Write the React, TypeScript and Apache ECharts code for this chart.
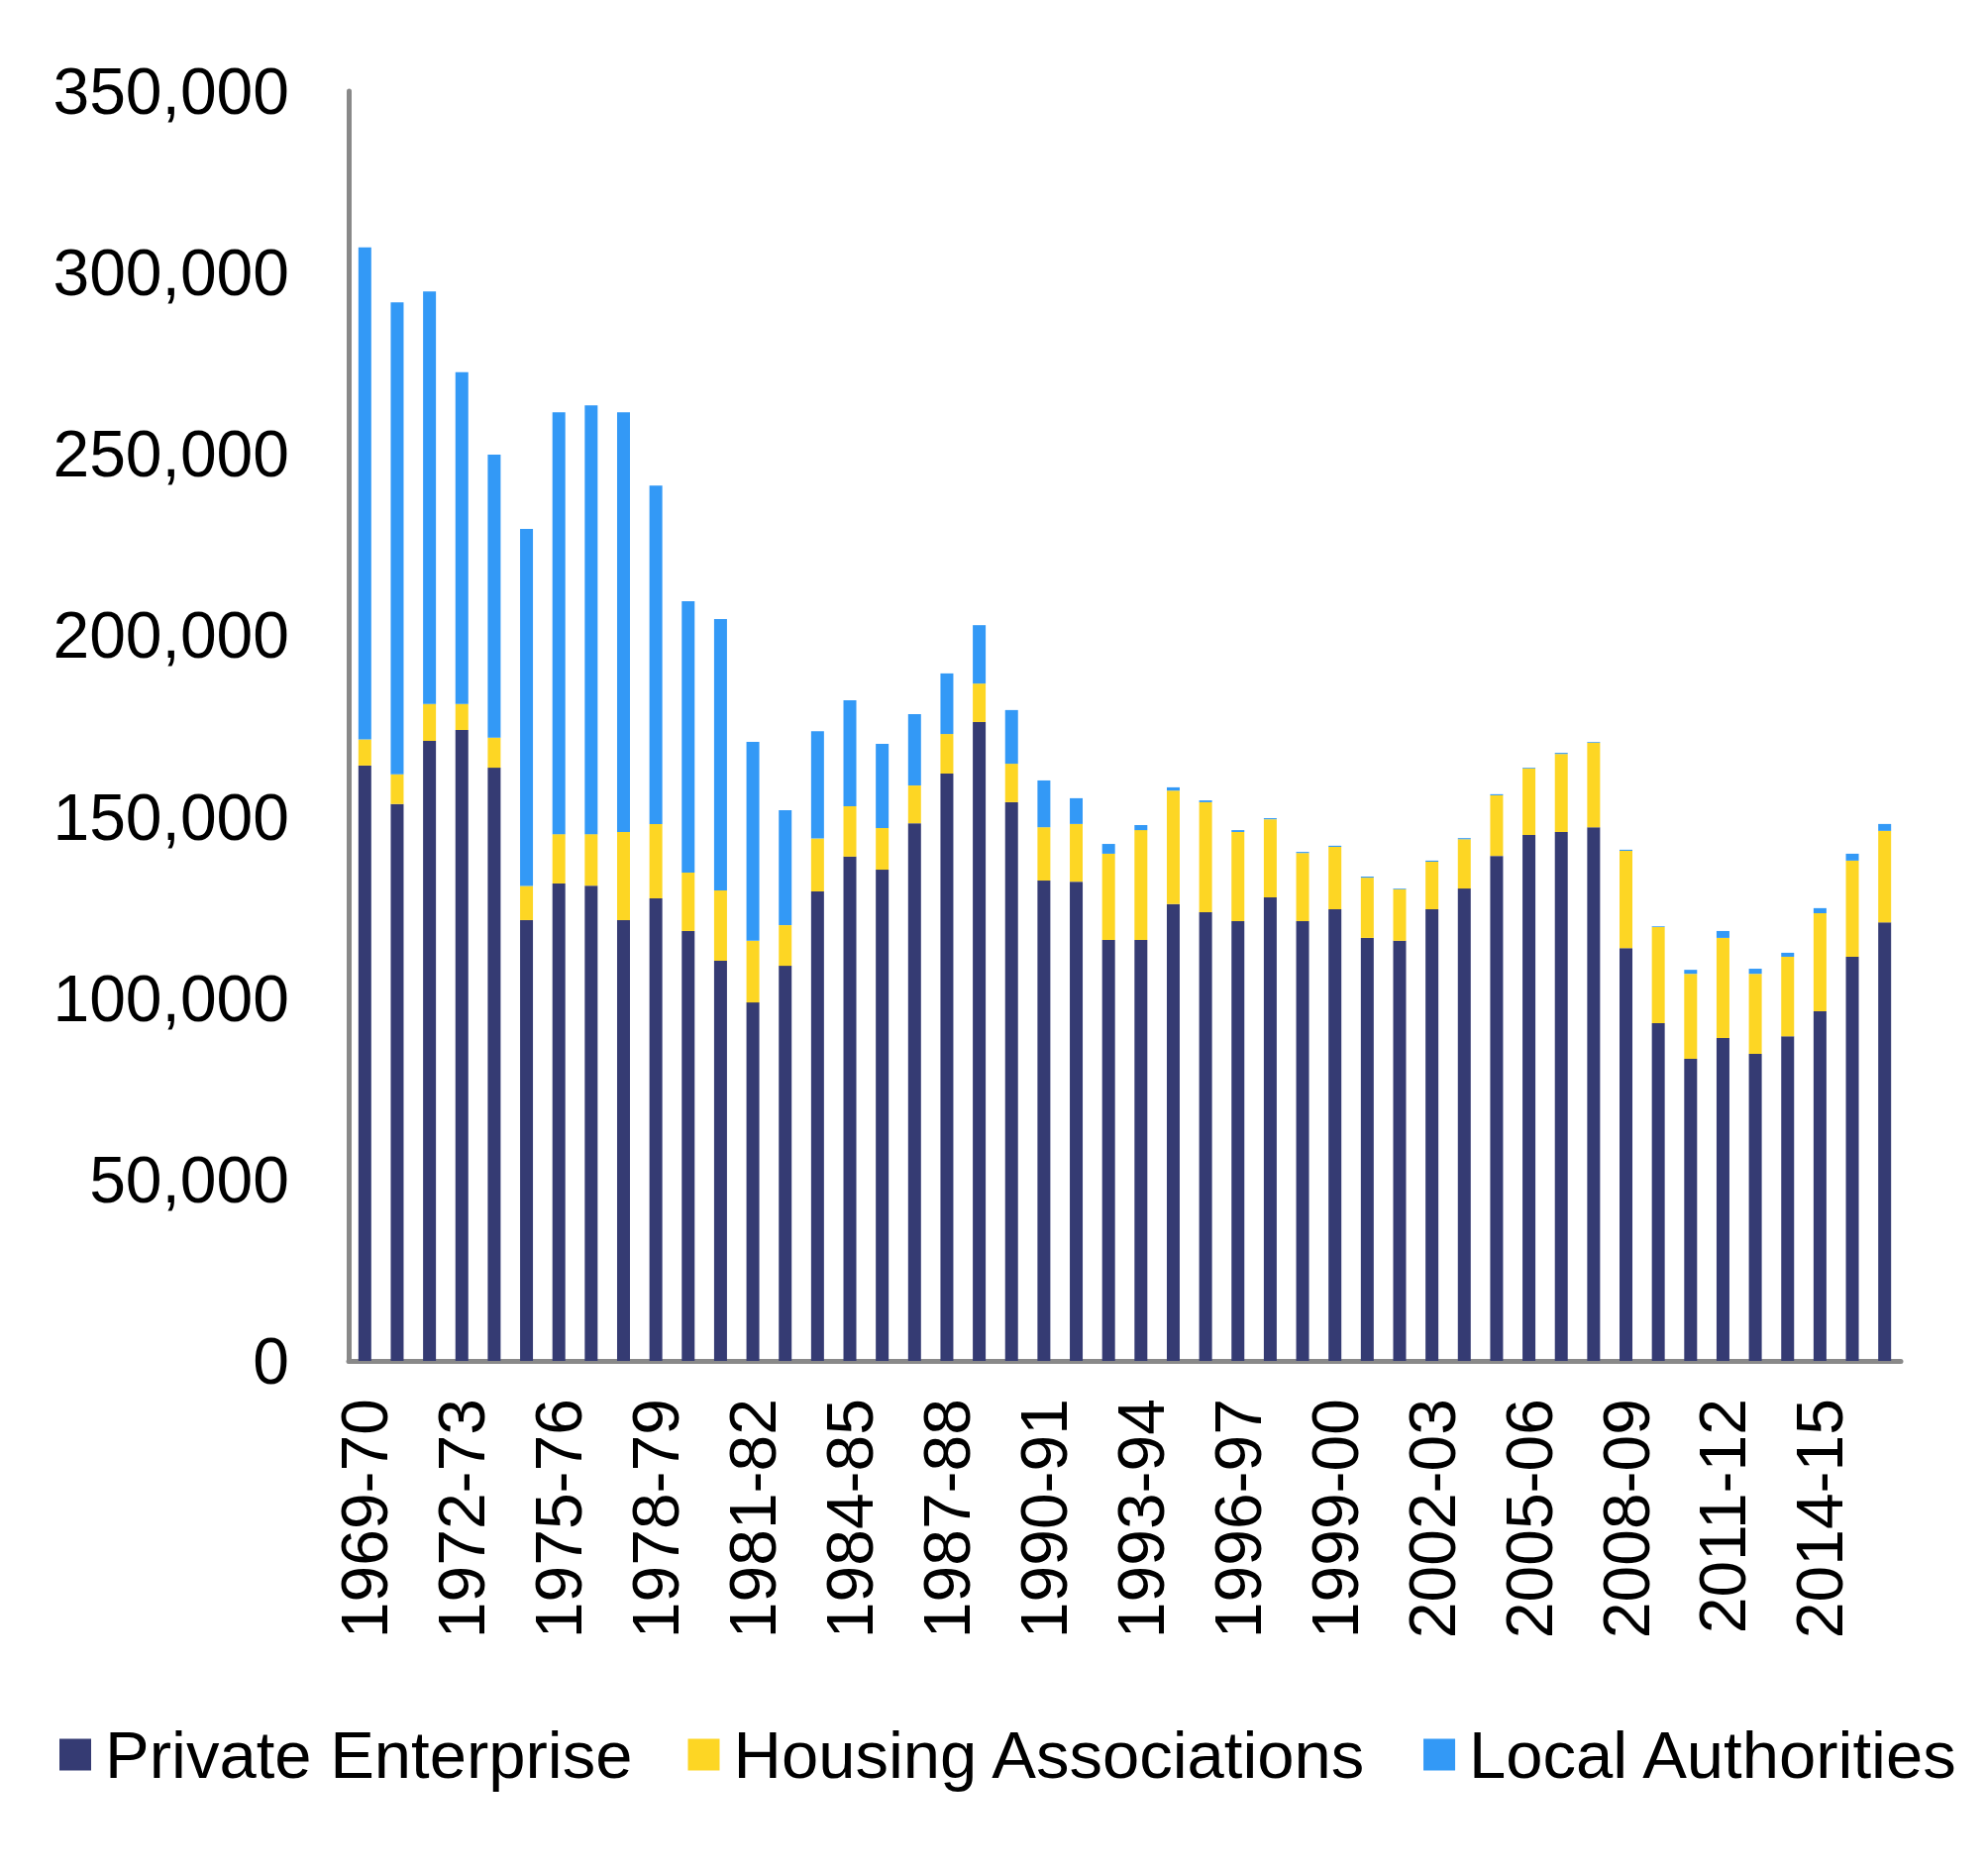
import React, { useEffect, useRef } from "react";
import * as echarts from "echarts";

const categories = [
  "1969-70", "1970-71", "1971-72", "1972-73", "1973-74", "1974-75", "1975-76", "1976-77",
  "1977-78", "1978-79", "1979-80", "1980-81", "1981-82", "1982-83", "1983-84", "1984-85",
  "1985-86", "1986-87", "1987-88", "1988-89", "1989-90", "1990-91", "1991-92", "1992-93",
  "1993-94", "1994-95", "1995-96", "1996-97", "1997-98", "1998-99", "1999-00", "2000-01",
  "2001-02", "2002-03", "2003-04", "2004-05", "2005-06", "2006-07", "2007-08", "2008-09",
  "2009-10", "2010-11", "2011-12", "2012-13", "2013-14", "2014-15", "2015-16", "2016-17",
];

const privateEnterprise = [
  164100, 153500, 170900, 173900, 163500, 121500, 131600, 131000,
  121500, 127500, 118500, 110300, 98800, 108900, 129400, 139000,
  135400, 148200, 161900, 176100, 154000, 132400, 132100, 116000,
  116000, 125900, 123700, 121200, 127800, 121200, 124500, 116600,
  115800, 124500, 130200, 139200, 145000, 145800, 147100, 113800,
  93100, 83300, 89000, 84600, 89500, 96400, 111400, 120900,
];

const housingAssociations = [
  7200, 8200, 10200, 7200, 8300, 9400, 13600, 14200,
  24300, 20500, 16100, 19400, 17000, 11200, 14600, 13900,
  11500, 10400, 10900, 10600, 10600, 14700, 15900, 23800,
  30300, 31300, 30300, 24600, 21500, 18800, 17200, 16600,
  14200, 13100, 13600, 16700, 18300, 21500, 23300, 26800,
  26500, 23400, 27600, 22100, 21900, 27000, 26500, 25200,
];

const localAuthorities = [
  135600, 130100, 113700, 91400, 78000, 98400, 116300, 118200,
  115700, 93300, 74800, 74800, 54800, 31700, 29600, 29200,
  23200, 19700, 16700, 16100, 14800, 12900, 7100, 2700,
  1400, 900, 500, 500, 300, 300, 300, 300,
  200, 300, 300, 300, 200, 300, 200, 300,
  200, 1100, 1900, 1400, 1100, 1400, 1900, 1900,
];

const yTicks = [0, 50000, 100000, 150000, 200000, 250000, 300000, 350000];

const FONT = '"Liberation Sans", Arial, sans-serif';

export default function App() {
  const ref = useRef<HTMLDivElement>(null);

  useEffect(() => {
    if (!ref.current) return;
    const chart = echarts.init(ref.current, undefined, { renderer: "svg" });
    const axisGray = "#898989";
    chart.setOption({
      animation: false,
      backgroundColor: "#ffffff",
      textStyle: { fontFamily: FONT },
      grid: { left: 352, right: 88, top: 92, bottom: 516, containLabel: false },
      legend: {
        left: 55,
        top: 1733,
        itemWidth: 32,
        itemHeight: 32,
        itemGap: 56,
        icon: "rect",
        textStyle: {
          fontFamily: FONT,
          fontSize: 67,
          color: "#000",
          lineHeight: 66,
          padding: [0, 0, 0, 9],
        },
        data: ["Private Enterprise", "Housing Associations", "Local Authorities"],
      },
      xAxis: {
        type: "category",
        data: categories,
        axisLine: { show: true, lineStyle: { color: axisGray, width: 5 } },
        axisTick: { show: false },
        axisLabel: {
          interval: 2,
          rotate: 90,
          margin: 38,
          fontFamily: FONT,
          fontSize: 66,
          color: "#000",
        },
      },
      yAxis: {
        type: "value",
        min: yTicks[0],
        max: yTicks[yTicks.length - 1],
        interval: yTicks[1] - yTicks[0],
        splitLine: { show: false },
        axisTick: { show: false },
        axisLine: { show: true, lineStyle: { color: axisGray, width: 5 } },
        axisLabel: {
          margin: 60,
          fontFamily: FONT,
          fontSize: 66,
          color: "#000",
          formatter: (v: number) => v.toLocaleString("en-US"),
        },
      },
      series: [
        {
          name: "Private Enterprise",
          type: "bar",
          stack: "total",
          barWidth: 13,
          itemStyle: { color: "#353b73" },
          data: privateEnterprise,
        },
        {
          name: "Housing Associations",
          type: "bar",
          stack: "total",
          barWidth: 13,
          itemStyle: { color: "#fdd624" },
          data: housingAssociations,
        },
        {
          name: "Local Authorities",
          type: "bar",
          stack: "total",
          barWidth: 13,
          itemStyle: { color: "#3399f6" },
          data: localAuthorities,
        },
      ],
    });
    return () => chart.dispose();
  }, []);

  return (
    <div
      ref={ref}
      style={{ position: "absolute", left: 0, top: 0, width: 2007, height: 1890, background: "#fff" }}
    />
  );
}
